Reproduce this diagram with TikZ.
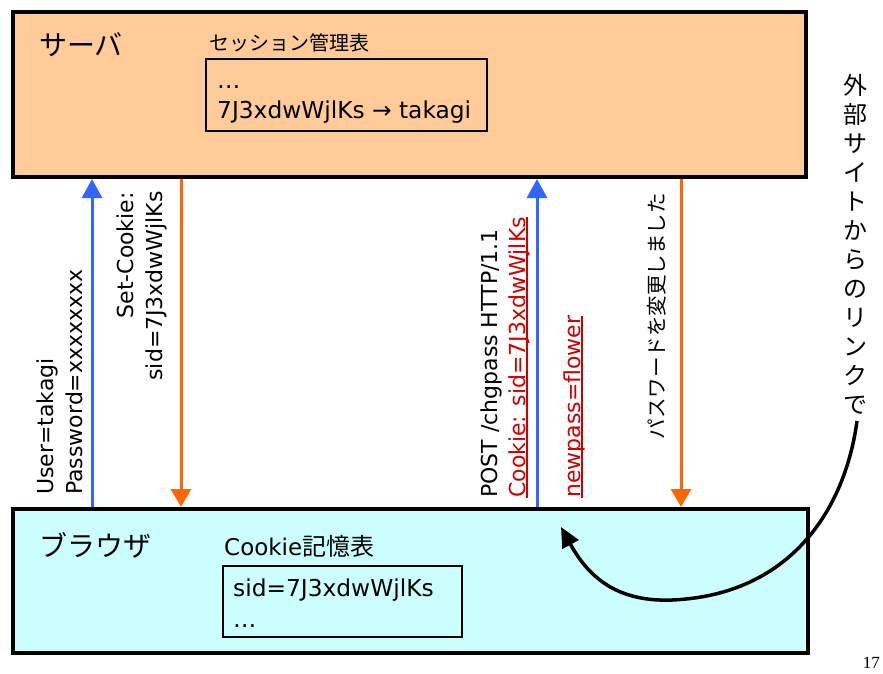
\documentclass[tikz,border=0pt]{standalone}
\usepackage{fontspec}
\setmainfont{DejaVu Sans}
\newfontfamily\jp{Noto Sans CJK JP}
\newfontfamily\numfont{Liberation Serif}
\usetikzlibrary{arrows.meta}
\definecolor{servfill}{HTML}{FFCC99}
\definecolor{brwfill}{HTML}{CCFFFF}
\definecolor{myblue}{HTML}{3366FF}
\definecolor{myorange}{HTML}{FF6600}
\definecolor{myred}{HTML}{CC0000}
\newcommand{\redline}[1]{\setbox0\hbox{#1}\rlap{\rule[-3pt]{\wd0}{2pt}}\box0}
\begin{document}
\begin{tikzpicture}[x=1pt,y=-1pt,
  bigbox/.style={draw=black, line width=4pt, inner sep=0pt, rectangle},
  tablebox/.style={draw=black, line width=2pt, inner sep=0pt, rectangle},
  lab/.style={font=\fontsize{22}{26}\selectfont, inner sep=0pt, rotate=90},
  latintxt/.style={font=\fontsize{23.3}{27}\selectfont, inner sep=0pt},
  jlab/.style={font=\jp\fontsize{20.5}{25}\selectfont, inner sep=0pt},
  jbig/.style={font=\jp\fontsize{28}{32}\selectfont, inner sep=0pt},
  uparrow/.style={draw=myblue, line width=3pt, -{Triangle[width=20pt,length=19pt]}},
  downarrow/.style={draw=myorange, line width=3pt, -{Triangle[width=20pt,length=18pt]}},
  linkarrow/.style={draw=black, line width=3.5pt, -{Triangle[width=18pt,length=20pt]}}]
\useasboundingbox (0,0) rectangle (883,673);

% boxes
\node[bigbox, fill=servfill, minimum width=793pt, minimum height=165pt] (server) at (409.5,94.5) {};
\node[bigbox, fill=brwfill, minimum width=795pt, minimum height=144pt] (browser) at (410.5,581) {};

% server contents
\node[jbig, anchor=west] (servlabel) at (39,45) {サーバ};
\node[jlab, font=\jp\fontsize{20}{24}\selectfont, anchor=west] (sesstitle) at (209,43) {セッション管理表};
\node[tablebox, minimum width=281pt, minimum height=72pt] (sessbox) at (346.5,95) {};
\node[latintxt, anchor=base west] (sess1) at (217,88) {…};
\node[latintxt, anchor=base west] (sess2) at (217,118) {7J3xdwWjlKs → takagi};

% browser contents
\node[jbig, anchor=west] (brwlabel) at (39,545) {ブラウザ};
\node[anchor=base west, inner sep=0pt] (cktitle) at (224,555) {\fontsize{23}{27}\selectfont Cookie\jp\fontsize{24}{28}\selectfont 記憶表};
\node[tablebox, minimum width=239pt, minimum height=71pt] (ckbox) at (342.5,601.5) {};
\node[latintxt, anchor=base west] (ck1) at (233,596) {sid=7J3xdwWjlKs};
\node[latintxt, anchor=base west] (ck2) at (233,627) {…};

% arrows
\coordinate (xa) at (92,0);
\coordinate (xb) at (181,0);
\coordinate (xc) at (537,0);
\coordinate (xd) at (681,0);
\draw[uparrow] (browser.north -| xa) -- (server.south -| xa);
\draw[downarrow] (server.south -| xb) -- (browser.north -| xb);
\draw[uparrow] (browser.north -| xc) -- (server.south -| xc);
\draw[downarrow] (server.south -| xd) -- (browser.north -| xd);

% rotated labels
\node[lab, anchor=base west] (u1) at (53,495) {User=takagi};
\node[lab, anchor=base west] (u2) at (82,495) {Password=xxxxxxxx};
\node[lab, anchor=base east] (s1) at (133,192) {Set-Cookie:};
\node[lab, anchor=base east] (s2) at (162,191) {sid=7J3xdwWjlKs};
\node[lab, anchor=base west] (p1) at (497,498) {POST /chgpass HTTP/1.1};
\node[lab, anchor=base west, text=myred] (p2) at (525,498) {\redline{Cookie: sid=7J3xdwWjlKs}};
\node[lab, anchor=base west, text=myred] (np) at (580,498) {\redline{newpass=flower}};
\node[jlab, rotate=90, anchor=base east] (pw) at (664,193) {パスワードを変更しました};

% external link text
\node[font=\jp\fontsize{24}{29}\selectfont, inner sep=0pt, align=center, anchor=north] (ext) at (855,74)
  {外\\部\\サ\\イ\\ト\\か\\ら\\の\\リ\\ン\\ク\\で};
\coordinate (cs) at (857,421);
\coordinate (ce) at (561,527);
\draw[linkarrow] (cs) .. controls (845,510) and (790,595) .. (672,600)
  .. controls (620,602) and (590,580) .. (ce);

% page number
\node[font=\numfont\fontsize{17}{20}\selectfont, inner sep=0pt, anchor=base east] (pg) at (880,668) {17};
\end{tikzpicture}
\end{document}
